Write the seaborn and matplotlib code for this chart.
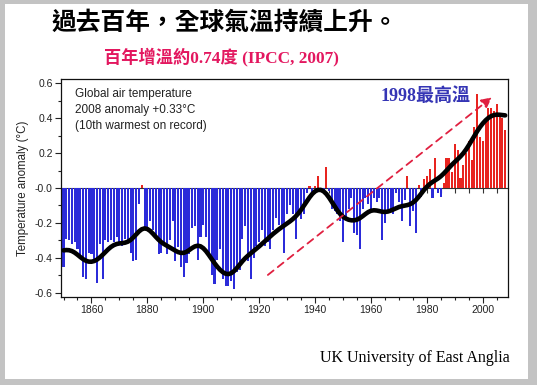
import math
import numpy as np
import pandas as pd
import matplotlib
matplotlib.use("Agg")
import matplotlib.pyplot as plt
import seaborn as sns
from matplotlib.patches import Rectangle
from matplotlib.ticker import MultipleLocator

# ---------------- data ----------------
years = list(range(1850, 2009))
anomaly = [
    # 1850-1859
    -0.45, -0.29, -0.30, -0.32, -0.31, -0.35, -0.40, -0.51, -0.52, -0.37,
    # 1860-1869
    -0.38, -0.43, -0.545, -0.32, -0.52, -0.30, -0.31, -0.30, -0.31, -0.28,
    # 1870-1879
    -0.31, -0.33, -0.29, -0.31, -0.37, -0.42, -0.41, -0.09, 0.02, -0.23,
    # 1880-1889
    -0.24, -0.19, -0.24, -0.29, -0.38, -0.37, -0.31, -0.38, -0.30, -0.19,
    # 1890-1899
    -0.42, -0.34, -0.45, -0.51, -0.43, -0.38, -0.23, -0.22, -0.41, -0.28,
    # 1900-1909
    -0.21, -0.28, -0.40, -0.50, -0.55, -0.41, -0.35, -0.52, -0.56, -0.56,
    # 1910-1919
    -0.53, -0.58, -0.48, -0.47, -0.29, -0.22, -0.42, -0.52, -0.40, -0.33,
    # 1920-1929
    -0.31, -0.24, -0.33, -0.31, -0.35, -0.24, -0.17, -0.21, -0.21, -0.37,
    # 1930-1939
    -0.15, -0.10, -0.15, -0.29, -0.14, -0.18, -0.15, -0.03, 0.01, -0.03,
    # 1940-1949
    0.01, 0.07, -0.01, -0.01, 0.12, -0.02, -0.12, -0.13, -0.15, -0.19,
    # 1950-1959
    -0.31, -0.17, -0.12, -0.06, -0.26, -0.27, -0.35, -0.12, -0.06, -0.09,
    # 1960-1969
    -0.13, -0.06, -0.08, -0.06, -0.30, -0.20, -0.14, -0.12, -0.15, -0.03,
    # 1970-1979
    -0.08, -0.19, -0.07, 0.07, -0.22, -0.13, -0.26, 0.02, -0.05, 0.05,
    # 1980-1989
    0.07, 0.11, -0.06, 0.17, -0.03, -0.05, 0.03, 0.17, 0.17, 0.09,
    # 1990-1999
    0.25, 0.22, 0.06, 0.13, 0.20, 0.27, 0.16, 0.35, 0.54, 0.29,
    # 2000-2008
    0.27, 0.40, 0.46, 0.46, 0.44, 0.48, 0.42, 0.40, 0.33,
]

title = "過去百年，全球氣溫持續上升。"
subtitle = "百年增溫約0.74度 (IPCC, 2007)"
peak_note = "1998最高溫"
box_lines = ["Global air temperature", "2008 anomaly +0.33°C", "(10th warmest on record)"]
source = "UK University of East Anglia"
y_label = "Temperature anomaly (°C)"
y_ticks = [-0.6, -0.4, -0.2, 0.0, 0.2, 0.4, 0.6]
y_tick_labels = ["-0.6", "-0.4", "-0.2", "-0.0", "0.2", "0.4", "0.6"]
x_ticks = [1860, 1880, 1900, 1920, 1940, 1960, 1980, 2000]
trend_from = (1923.1, -0.497)
trend_to = (2003.2, 0.518)

# ---------------- smoothing (binomial filter, end-padded) ----------------
a = np.array(anomaly, dtype=float)
n = 40
w = np.array([math.comb(n, k) for k in range(n + 1)], dtype=float)
w /= w.sum()
half = n // 2
ext = np.concatenate([np.full(half, a[:8].mean()), a, np.full(half, a[-8:].mean())])
smooth = np.convolve(ext, w, mode="valid")

df = pd.DataFrame({"year": years, "anomaly": anomaly})
df["sign"] = np.where(df["anomaly"] >= 0, "pos", "neg")

BLUE = "#2b2bd9"
RED = "#e8241f"

sns.set_theme(style="ticks")
plt.rcParams["font.family"] = ["Liberation Sans", "DejaVu Sans"]

W, H = 537, 385
fig = plt.figure(figsize=(W / 100, H / 100), dpi=100)
fig.patch.set_facecolor("white")

ax = fig.add_axes([61 / W, (H - 297) / H, 447 / W, 218 / H])
ax.set_facecolor("white")

sns.barplot(data=df, x="year", y="anomaly", hue="sign",
            palette={"pos": RED, "neg": BLUE}, native_scale=True,
            dodge=False, width=0.74, saturation=1, errorbar=None,
            legend=False, linewidth=0, ax=ax, zorder=2)

sns.lineplot(x=years, y=smooth, color="black", linewidth=3.3, ax=ax, zorder=4)

ax.set_xlim(1849.1, 2009.0)
ax.set_ylim(-0.623, 0.623)
ax.set_xticks(x_ticks)
ax.set_xticklabels([str(t) for t in x_ticks])
ax.xaxis.set_minor_locator(MultipleLocator(5))
ax.set_yticks(y_ticks)
ax.set_yticklabels(y_tick_labels)
ax.yaxis.set_minor_locator(MultipleLocator(0.1))
ax.tick_params(which="major", direction="out", length=4, width=0.8,
               color="#222222", labelsize=7.5, pad=2, labelcolor="#222222")
ax.tick_params(which="minor", direction="out", length=2.5, width=0.8, color="#222222")
for lab in ax.get_xticklabels() + ax.get_yticklabels():
    lab.set_family(["Liberation Sans Narrow", "Liberation Sans"])
ax.set_xlabel("")
ax.set_ylabel(y_label, fontsize=8.3, color="#222222", labelpad=4)
for sp in ax.spines.values():
    sp.set_visible(True)
    sp.set_linewidth(0.9)
    sp.set_color("#111111")

# zero line with its own ticks, drawn beneath the bars
sec = ax.secondary_xaxis(0.49999)
sec.xaxis.set_major_locator(MultipleLocator(5))
sec.tick_params(direction="out", length=3.5, width=0.8, color="#333333",
                labelbottom=False, labeltop=False)
sec.spines["bottom"].set_linewidth(0.8)
sec.spines["bottom"].set_color("#333333")
sec.set_zorder(0.5)

# text box
ax.text(0.031, 0.958, "\n".join(box_lines), transform=ax.transAxes,
        ha="left", va="top", fontsize=8.5, linespacing=1.45, color="#222222",
        family=["Liberation Sans", "DejaVu Sans"])

# red dashed trend arrow
ax.annotate("", xy=trend_to, xytext=trend_from,
            arrowprops=dict(arrowstyle="-|>,head_length=0.5,head_width=0.25",
                            color="#e02040", lw=1.3, linestyle=(0, (4, 3)),
                            shrinkA=0, shrinkB=0), zorder=5)

# titles and notes
fig.text(225 / W, 1 - 23 / H, title, ha="center", va="center", fontsize=17.8,
         weight="bold", color="black", family=["Noto Sans CJK TC"])
fig.text(221 / W, 1 - 57 / H, subtitle, ha="center", va="center", fontsize=12.4,
         weight="bold", color="#e3175f", family=["Liberation Serif", "Noto Sans CJK TC"])
fig.text(426 / W, 1 - 96 / H, peak_note, ha="center", va="center", fontsize=13,
         weight="bold", color="#3535b5", family=["Liberation Serif", "Noto Sans CJK TC"])
fig.text(415 / W, 1 - 358 / H, source, ha="center", va="center", fontsize=11.5,
         color="black", family=["Liberation Serif", "DejaVu Serif"])

# grey frame around the slide
frame_col = "#c3c3c3"
for (x0, y0, w_, h_) in [(0, 0, 5 / W, 1), (528 / W, 0, 9 / W, 1),
                         (0, 1 - 4 / H, 1, 4 / H), (0, 0, 1, 6 / H)]:
    fig.patches.append(Rectangle((x0, y0), w_, h_, transform=fig.transFigure,
                                 facecolor=frame_col, edgecolor="none", zorder=10))

fig.savefig("out.png", dpi=100, facecolor="white")
